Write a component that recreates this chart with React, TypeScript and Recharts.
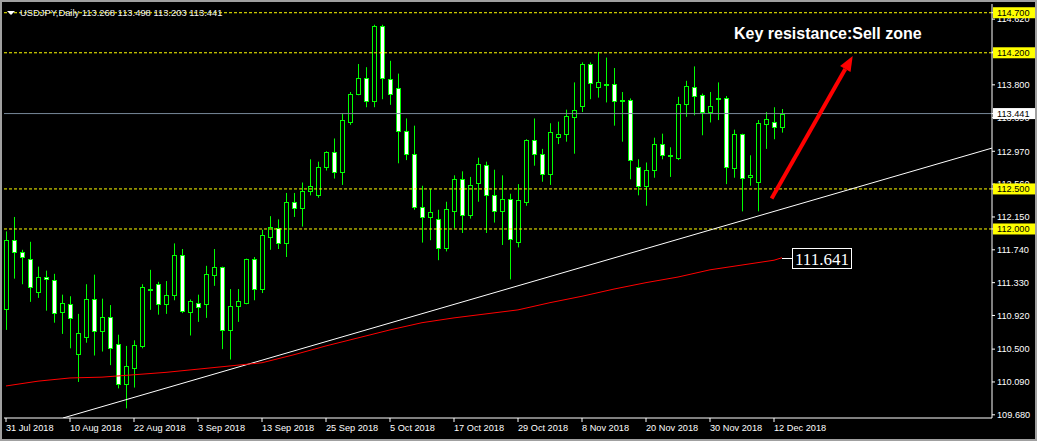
import React from "react";
import {
  ComposedChart,
  Bar,
  Line,
  XAxis,
  YAxis,
  ReferenceLine,
  ReferenceArea,
  ReferenceDot,
} from "recharts";

// daily USDJPY bars, 31 Jul 2018 .. 13 Dec 2018
const opens = [
  111.0, 111.86, 111.71, 111.63, 111.21, 111.4, 111.36, 110.96, 111.06, 110.44,
  110.65, 111.13, 110.73, 110.9, 110.57, 110.06, 110.26, 110.54, 111.24, 111.31,
  111.06, 111.18, 111.67, 110.96, 111.08, 111.06, 111.43, 111.52, 110.74, 111.04,
  111.08, 111.62, 111.25, 111.9, 112.01, 111.82, 112.34, 112.26, 112.47, 112.42,
  112.78, 112.96, 112.71, 113.34, 113.69, 113.89, 113.6, 114.53, 113.87, 113.76,
  113.22, 112.94, 112.27, 112.15, 112.13, 111.76, 112.23, 112.63, 112.17, 112.57,
  112.8, 112.43, 112.23, 112.38, 111.84, 112.34, 113.11, 112.93, 112.69, 113.15,
  113.18, 113.4, 113.54, 114.06, 113.77, 113.81, 113.81, 113.61, 113.61, 112.78,
  112.54, 112.74, 113.06, 112.92, 112.89, 113.56, 113.77, 113.67, 113.46, 113.63,
  113.64, 112.76, 113.18, 112.65, 112.59, 113.31, 113.34, 113.268,
];
const highs = [
  111.97, 112.15, 111.74, 111.84, 111.53, 111.48, 111.44, 111.18, 111.16, 110.94,
  111.31, 111.43, 111.13, 111.05, 110.68, 110.54, 110.61, 111.31, 111.49, 111.34,
  111.35, 111.82, 111.75, 111.12, 111.18, 111.54, 111.75, 111.53, 111.25, 111.25,
  111.63, 111.65, 111.99, 112.16, 112.12, 112.45, 112.45, 112.58, 112.87, 112.84,
  112.97, 113.13, 113.44, 113.71, 114.06, 114.02, 114.55, 114.55, 114.1, 113.94,
  113.38, 113.29, 112.54, 112.5, 112.24, 112.34, 112.67, 112.72, 112.65, 112.89,
  112.84, 112.74, 112.67, 112.44, 112.56, 113.12, 113.38, 113.0, 113.32, 113.34,
  113.49, 113.83, 114.08, 114.08, 114.21, 114.14, 114.01, 113.71, 113.63, 112.87,
  112.83, 113.14, 113.19, 113.02, 113.65, 113.85, 114.03, 113.69, 113.71, 113.83,
  113.66, 113.24, 113.19, 112.92, 113.36, 113.46, 113.52, 113.498,
];
const lows = [
  110.74, 111.38, 111.31, 111.09, 111.14, 110.98, 110.83, 110.69, 110.51, 110.09,
  110.58, 110.42, 110.47, 110.3, 110.01, 109.76, 110.02, 110.51, 110.99, 110.93,
  110.94, 111.11, 110.95, 110.67, 110.84, 110.89, 111.29, 110.5, 110.37, 110.84,
  111.06, 111.11, 111.2, 111.74, 111.75, 111.65, 112.15, 112.03, 112.42, 112.39,
  112.73, 112.63, 112.55, 113.3, 113.67, 113.52, 113.52, 113.62, 113.55, 112.82,
  112.86, 112.24, 111.83, 111.86, 111.61, 111.72, 112.01, 111.95, 112.13, 112.34,
  111.95, 112.08, 111.8, 111.37, 111.77, 112.29, 112.79, 112.59, 112.55, 113.06,
  113.09, 112.94, 113.46, 113.62, 113.64, 113.58, 113.29, 113.09, 112.62, 112.42,
  112.29, 112.64, 112.87, 112.65, 112.86, 113.4, 113.42, 113.17, 113.33, 113.36,
  112.56, 112.64, 112.22, 112.54, 112.22, 113.0, 113.12, 113.203,
];
const closes = [
  111.86, 111.71, 111.65, 111.27, 111.4, 111.37, 110.95, 111.07, 110.89, 110.7,
  111.13, 110.73, 110.9, 110.51, 110.06, 110.29, 110.55, 111.27, 111.25, 111.06,
  111.18, 111.67, 110.97, 111.1, 111.02, 111.44, 111.52, 110.74, 111.04, 111.1,
  111.62, 111.25, 111.93, 112.03, 111.83, 112.34, 112.26, 112.47, 112.54, 112.77,
  112.96, 112.71, 113.36, 113.68, 113.89, 113.6, 114.53, 113.88, 113.69, 113.22,
  112.94, 112.27, 112.15, 112.21, 111.76, 112.25, 112.63, 112.17, 112.55, 112.81,
  112.43, 112.23, 112.38, 111.88, 112.36, 113.11, 112.93, 112.69, 113.21, 113.18,
  113.41, 113.49, 114.06, 113.82, 113.83, 113.81, 113.6, 113.61, 112.86, 112.54,
  112.74, 113.06, 112.92, 112.91, 113.56, 113.78, 113.66, 113.46, 113.53, 113.64,
  112.77, 113.18, 112.64, 112.68, 113.32, 113.37, 113.27, 113.441,
];

// red moving average, read every 4th bar
const maBars = [0, 4, 8, 12, 16, 20, 24, 28, 32, 36, 40, 44, 48, 52, 56, 60, 64, 68, 72, 76, 80, 84, 88, 92, 96, 97];
const maValues = [
  110.04, 110.1, 110.14, 110.15, 110.18, 110.21, 110.25, 110.29, 110.33, 110.43,
  110.54, 110.64, 110.74, 110.83, 110.89, 110.94, 110.99, 111.08, 111.16, 111.25,
  111.33, 111.4, 111.49, 111.55, 111.61, 111.641,
];

const dateTickBars = [0, 8, 16, 24, 32, 40, 48, 56, 64, 72, 80, 88, 96];
const dateLabels = [
  "31 Jul 2018", "10 Aug 2018", "22 Aug 2018", "3 Sep 2018", "13 Sep 2018",
  "25 Sep 2018", "5 Oct 2018", "17 Oct 2018", "29 Oct 2018", "8 Nov 2018",
  "20 Nov 2018", "30 Nov 2018", "12 Dec 2018",
];
const priceTicks = [109.68, 110.09, 110.5, 110.92, 111.33, 111.74, 112.15, 112.56, 112.97, 113.39, 113.8, 114.21, 114.62];
const levels = [114.7, 114.2, 112.5, 112.0];
const lastPrice = 113.441;
const maLast = 111.641;
const trendline = [{ x: 7.125, y: 109.64 }, { x: 123.25, y: 113.01 }];
const arrow = [{ x: 95.7, y: 112.38 }, { x: 105.84, y: 114.16 }];

const GREEN = "#00ff00";
const FONT = "'Liberation Sans', Arial, sans-serif";

const rows = opens.map((o, i) => {
  const k = maBars.indexOf(i);
  return {
    i,
    o,
    h: highs[i],
    l: lows[i],
    c: closes[i],
    range: [lows[i], highs[i]],
    ma: k >= 0 ? maValues[k] : null,
  };
});

// level boxes go last so they sit on top of the plain tick labels
const axisTicks = [...priceTicks, ...levels, lastPrice];

function Candle(props: any) {
  const { x, y, width, height, payload } = props;
  if (height == null || !payload) return null;
  const { o, h, l, c } = payload;
  const px = (v: number) => y + ((h - v) / (h - l)) * height;
  const cx = Math.round(x + width / 2) + 0.5;
  const top = Math.round(px(Math.max(o, c))) + 0.5;
  const bot = Math.round(px(Math.min(o, c))) + 0.5;
  const up = c >= o;
  return (
    <g>
      <line x1={cx} x2={cx} y1={y} y2={y + height} stroke={GREEN} strokeWidth={1} />
      <rect
        x={cx - 2}
        y={top}
        width={4}
        height={Math.max(bot - top, 1)}
        fill={up ? "#000" : "#fff"}
        stroke={GREEN}
        strokeWidth={1}
      />
    </g>
  );
}

function DateTick({ x, y, payload }: any) {
  const idx = dateTickBars.indexOf(payload.value);
  return (
    <text x={x} y={y + 7} fill="#fff" fontSize={9.2} fontFamily={FONT}>
      {dateLabels[idx]}
    </text>
  );
}

function PriceTick({ x, y, payload }: any) {
  const v = payload.value;
  const isLevel = levels.includes(v);
  const isLast = v === lastPrice;
  if (isLevel || isLast) {
    return (
      <g>
        <rect x={x - 4} y={y - 5.5} width={44} height={11} fill={isLast ? "#ffffff" : "#ffff00"} />
        <text x={x} y={y + 3.5} fill="#000" fontSize={9.2} fontFamily={FONT}>
          {v.toFixed(3)}
        </text>
      </g>
    );
  }
  return (
    <text x={x} y={y + 3.3} fill="#fff" fontSize={9.2} fontFamily={FONT}>
      {v.toFixed(3)}
    </text>
  );
}

function ArrowShape(props: any) {
  const { x1, y1, x2, y2 } = props;
  const ang = Math.atan2(y2 - y1, x2 - x1);
  const headLen = 15;
  const headHalf = 6;
  const bx = x2 - headLen * Math.cos(ang);
  const by = y2 - headLen * Math.sin(ang);
  const nx = -Math.sin(ang);
  const ny = Math.cos(ang);
  return (
    <g>
      <line x1={x1} y1={y1} x2={bx} y2={by} stroke="#ff0000" strokeWidth={4} />
      <polygon
        points={`${x2},${y2} ${bx + nx * headHalf},${by + ny * headHalf} ${bx - nx * headHalf},${by - ny * headHalf}`}
        fill="#ff0000"
      />
    </g>
  );
}

function MaLabel(props: any) {
  const { cx, cy } = props;
  const y = Math.round(cy) + 0.5;
  return (
    <g>
      <line x1={cx} x2={cx + 10} y1={y} y2={y} stroke="#fff" strokeWidth={1} />
      <rect x={cx + 10.5} y={y - 10} width={59} height={20} fill="#000" stroke="#fff" strokeWidth={1} />
      <text
        x={cx + 40}
        y={y + 6}
        textAnchor="middle"
        fill="#fff"
        fontSize={17}
        fontFamily="'Liberation Serif', 'Times New Roman', serif"
      >
        {maLast.toFixed(3)}
      </text>
    </g>
  );
}

export default function App() {
  return (
    <div style={{ position: "relative", width: 1037, height: 441, background: "#000", overflow: "hidden" }}>
      <style>{"body{margin:0;background:#000}"}</style>
      <ComposedChart
        width={1037}
        height={441}
        data={rows}
        margin={{ top: 4, right: 0, bottom: 0, left: 4 }}
      >
        <XAxis
          dataKey="i"
          type="number"
          domain={[-0.25, 123.25]}
          allowDataOverflow
          ticks={dateTickBars}
          interval={0}
          height={23}
          tickSize={4}
          axisLine={{ stroke: "#fff" }}
          tickLine={{ stroke: "#fff" }}
          tick={<DateTick />}
        />
        <YAxis
          orientation="right"
          type="number"
          domain={[109.64, 114.809]}
          allowDataOverflow
          ticks={axisTicks}
          interval={0}
          width={45}
          tickSize={3}
          axisLine={{ stroke: "#fff" }}
          tickLine={{ stroke: "#fff" }}
          tick={<PriceTick />}
        />
        <ReferenceArea fill="none" stroke="#fff" ifOverflow="visible" />
        {levels.map((v) => (
          <ReferenceLine key={v} y={v} stroke="#ffff00" strokeDasharray="3 2" />
        ))}
        <ReferenceLine y={lastPrice} stroke="#778899" />
        <ReferenceLine segment={trendline} stroke="#fff" strokeWidth={1} ifOverflow="hidden" />
        <Line
          dataKey="ma"
          stroke="#ff0000"
          strokeWidth={1}
          dot={false}
          connectNulls
          isAnimationActive={false}
        />
        <Bar dataKey="range" barSize={5} shape={<Candle />} isAnimationActive={false} />
        <ReferenceLine segment={arrow} ifOverflow="visible" shape={<ArrowShape />} />
        <ReferenceDot x={97} y={maLast} r={0} ifOverflow="visible" shape={<MaLabel />} />
      </ComposedChart>

      <div style={{ position: "absolute", left: 7, top: 11, width: 0, height: 0, borderLeft: "4px solid transparent", borderRight: "4px solid transparent", borderTop: "4px solid #fff" }} />
      <div
        style={{
          position: "absolute",
          left: 20,
          top: 8,
          fontFamily: FONT,
          fontSize: 9.4,
          lineHeight: "10px",
          color: "#f0f0f0",
          whiteSpace: "nowrap",
        }}
      >
        USDJPY,Daily 113.268 113.498 113.203 113.441
      </div>
      <div
        style={{
          position: "absolute",
          left: 734,
          top: 25.5,
          fontFamily: FONT,
          fontWeight: "bold",
          fontSize: 16,
          lineHeight: "16px",
          color: "#fff",
          whiteSpace: "nowrap",
        }}
      >
        Key resistance:Sell zone
      </div>
      <div style={{ position: "absolute", inset: 0, border: "2px solid #a0a0a0", pointerEvents: "none" }} />
    </div>
  );
}
